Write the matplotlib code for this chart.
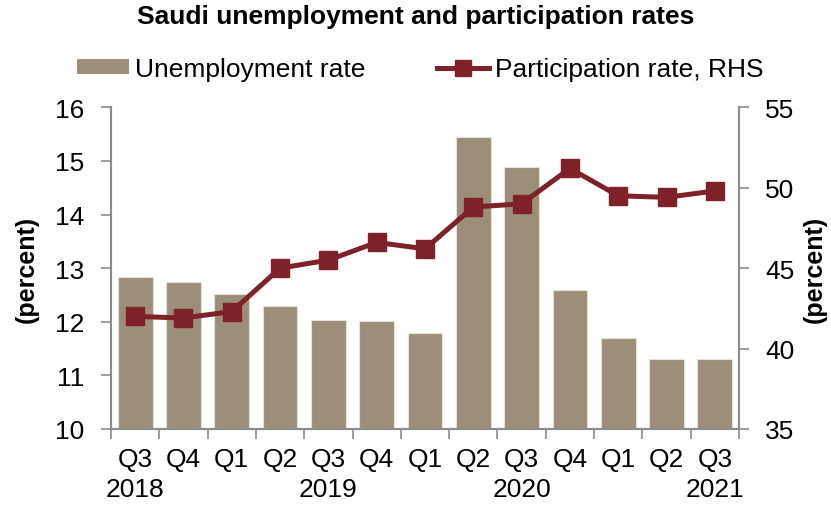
import matplotlib.pyplot as plt
from matplotlib.lines import Line2D
from matplotlib.patches import Patch
import numpy as np

plt.rcParams['font.family'] = ['Liberation Sans', 'DejaVu Sans']

# Quarterly data, Q3 2018 to Q3 2021
quarters = ['Q3', 'Q4', 'Q1', 'Q2', 'Q3', 'Q4', 'Q1', 'Q2', 'Q3', 'Q4', 'Q1', 'Q2', 'Q3']
years = ['2018', '', '', '', '2019', '', '', '', '2020', '', '', '', '2021']
unemployment = [12.83, 12.74, 12.52, 12.30, 12.03, 12.01, 11.79, 15.44, 14.89, 12.60, 11.70, 11.30, 11.30]
participation = [42.0, 41.9, 42.3, 45.0, 45.5, 46.6, 46.2, 48.8, 49.0, 51.2, 49.5, 49.4, 49.8]

bar_color = '#9c8f79'
line_color = '#7f2128'
spine_color = '#8c8c8c'

fig = plt.figure(figsize=(8.31, 5.06), dpi=100)
ax = fig.add_axes([0.1336, 0.1502, 0.7557, 0.6358])
ax2 = ax.twinx()

x = np.arange(len(quarters))
ax.bar(x, unemployment, width=0.72, color=bar_color, edgecolor='#e6e1d8', linewidth=0.8, zorder=2)
ax2.plot(x, participation, color=line_color, linewidth=3.6, marker='s', markersize=13, zorder=3)

ax.set_xlim(-0.5, len(quarters) - 0.5)
ax.set_ylim(10, 16)
ax2.set_ylim(35, 55)
ax.set_yticks(range(10, 17))
ax2.set_yticks(range(35, 56, 5))

# ticks at category boundaries, labels at category centres
ax.set_xticks(np.arange(-0.5, len(quarters), 1.0))
ax.set_xticklabels([])
ax.set_xticks(x, minor=True)
ax.set_xticklabels([q + ('\n' + y if y else '') for q, y in zip(quarters, years)],
                   minor=True, fontsize=19, va='top', linespacing=1.3)
ax.tick_params(axis='x', which='minor', length=0, pad=13)
ax.tick_params(axis='x', which='major', length=7, width=1.2, color=spine_color, direction='out')
ax.tick_params(axis='y', length=7, width=1.2, color=spine_color, labelsize=19, pad=12)
ax2.tick_params(axis='y', length=7, width=1.2, color=spine_color, labelsize=19, pad=12)

for a in (ax, ax2):
    a.spines['top'].set_visible(False)
    for s in ('left', 'right', 'bottom'):
        a.spines[s].set_color(spine_color)
        a.spines[s].set_linewidth(1.5)

ax.set_ylabel('(percent)', fontsize=18, fontweight='bold', labelpad=12)
ax2.set_ylabel('(percent)', fontsize=18, fontweight='bold', rotation=90, labelpad=6)

fig.suptitle('Saudi unemployment and participation rates', x=0.5, y=0.99,
             fontsize=19, fontweight='bold', va='top')

handles = [Patch(facecolor=bar_color, edgecolor='none'),
           Line2D([0], [0], color=line_color, linewidth=3.6, marker='s', markersize=11)]
fig.legend(handles, ['Unemployment rate', 'Participation rate, RHS'],
           loc='center', bbox_to_anchor=(0.506, 1 - 70 / 506), ncol=2, frameon=False,
           fontsize=19, handlelength=1.95, handleheight=0.5, handletextpad=0.25,
           columnspacing=2.7)

fig.savefig('out.png', dpi=100)
